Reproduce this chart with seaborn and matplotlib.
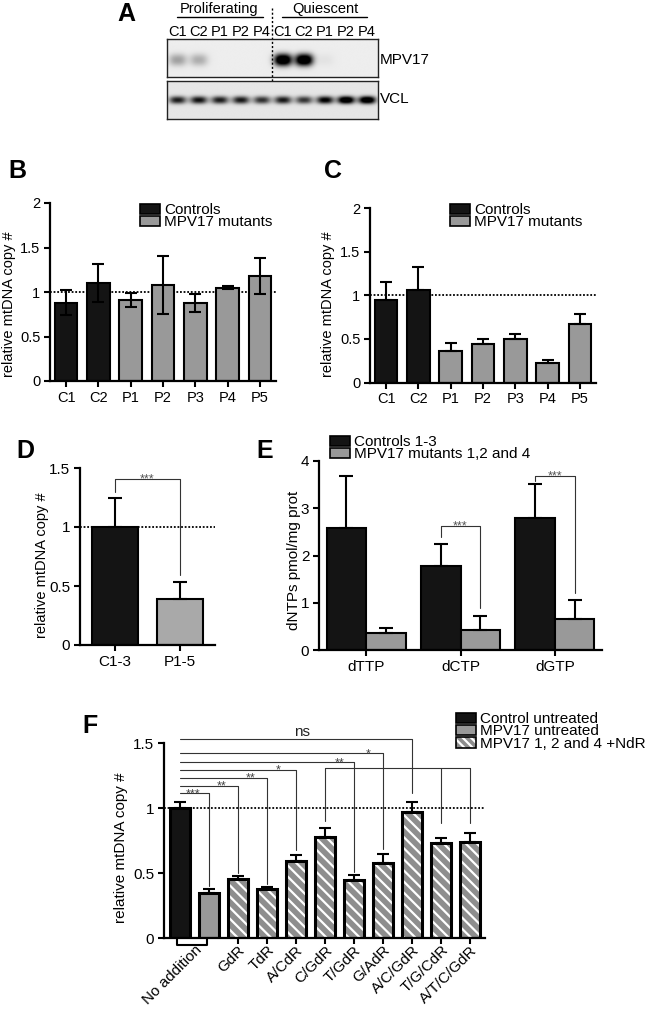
import numpy as np
import pandas as pd
import matplotlib
matplotlib.use("Agg")
import matplotlib.pyplot as plt
import seaborn as sns
from matplotlib.patches import Patch
from matplotlib.colors import to_rgb
from matplotlib.transforms import blended_transform_factory, ScaledTranslation

# ---------------- data ----------------
blot_lanes = ['C1', 'C2', 'P1', 'P2', 'P4', 'C1', 'C2', 'P1', 'P2', 'P4']
blot_mpv17 = [0.30, 0.25, 0.0, 0.0, 0.0, 1.3, 1.3, 0.04, 0.0, 0.0]
blot_vcl = [0.80, 0.85, 0.80, 0.82, 0.72, 0.82, 0.70, 0.95, 1.2, 1.2]

b_cats = ['C1', 'C2', 'P1', 'P2', 'P3', 'P4', 'P5']
b_group = ['Controls', 'Controls'] + ['MPV17 mutants'] * 5
b_vals = [0.88, 1.10, 0.91, 1.08, 0.88, 1.05, 1.18]
b_err = [0.14, 0.21, 0.08, 0.33, 0.10, 0.02, 0.20]

c_vals = [0.94, 1.06, 0.36, 0.44, 0.50, 0.22, 0.67]
c_err = [0.21, 0.26, 0.09, 0.055, 0.055, 0.035, 0.11]

d_cats = ['C1-3', 'P1-5']
d_vals = [1.00, 0.39]
d_err = [0.25, 0.14]

e_cats = ['dTTP', 'dCTP', 'dGTP']
e_groups = ['Controls 1-3', 'MPV17 mutants 1,2 and 4']
e_ctrl = [2.58, 1.77, 2.80]
e_ctrl_err = [1.10, 0.47, 0.71]
e_mut = [0.36, 0.42, 0.66]
e_mut_err = [0.11, 0.29, 0.40]
e_sig_idx = [1, 2]
e_sig_level = [2.63, 3.68]
e_sig_leg_ctrl = [2.40, 3.58]
e_sig_leg_mut = [0.88, 1.20]

f_cats = ['Control untreated', 'MPV17 untreated', 'GdR', 'TdR', 'A/CdR', 'C/GdR',
          'T/GdR', 'G/AdR', 'A/C/GdR', 'T/G/CdR', 'A/T/C/GdR']
f_groups = ['Control untreated', 'MPV17 untreated', 'MPV17 1, 2 and 4 +NdR']
f_group = [f_groups[0], f_groups[1]] + [f_groups[2]] * 9
f_vals = [1.00, 0.35, 0.455, 0.382, 0.597, 0.777, 0.449, 0.582, 0.974, 0.736, 0.738]
f_err = [0.05, 0.028, 0.025, 0.010, 0.044, 0.069, 0.036, 0.067, 0.075, 0.033, 0.070]
f_ticklabels = ['No addition', 'GdR', 'TdR', 'A/CdR', 'C/GdR', 'T/GdR', 'G/AdR',
                'A/C/GdR', 'T/G/CdR', 'A/T/C/GdR']
f_sig_target = [1, 2, 3, 4, 6, 7, 8]
f_sig_level = [1.115, 1.172, 1.236, 1.295, 1.354, 1.423, 1.531]
f_sig_leg = [0.40, 0.50, 0.42, 0.68, 0.51, 0.69, 1.12]
f_sig_text = ['***', '**', '**', '*', '**', '*', 'ns']
f_sig_textx = [0.45, 1.45, 2.45, 3.4, 5.5, 6.5, 4.2]
f_grp_targets = [5, 9, 10]
f_grp_level = 1.308
f_grp_legs = [0.90, 0.887, 0.887]

# ---------------- style ----------------
sns.set_style('ticks')
plt.rcParams['font.family'] = ['Liberation Sans', 'DejaVu Sans']
plt.rcParams.update({
    'axes.linewidth': 1.6, 'xtick.major.width': 1.5, 'ytick.major.width': 1.5,
    'xtick.major.size': 4.5, 'ytick.major.size': 4.5, 'hatch.linewidth': 1.6,
    'xtick.color': 'black', 'ytick.color': 'black', 'axes.edgecolor': 'black',
    'text.color': 'black', 'axes.labelcolor': 'black',
})

W, H = 653, 1010
fig = plt.figure(figsize=(W / 100, H / 100), dpi=100)

BLACK = '#141414'
GRAY = '#999999'
HGRAY = '#8e8e8e'


def add_ax(x0, y0, x1, y1):
    return fig.add_axes([x0 / W, 1 - y1 / H, (x1 - x0) / W, (y1 - y0) / H])


def fpt(x, y):
    return (x / W, 1 - y / H)


def label_at(ax, text, px, py, size):
    ax.set_ylabel(text, fontsize=size)
    ax.yaxis.label.set_verticalalignment('center')
    bb = ax.get_position()
    ax.yaxis.set_label_coords((px / W - bb.x0) / bb.width, ((1 - py / H) - bb.y0) / bb.height)


def legend_at(ax, handles, labels, px, py, size=11):
    ax.legend(handles, labels, loc='upper left', bbox_to_anchor=fpt(px, py),
              bbox_transform=fig.transFigure, frameon=False, fontsize=size,
              handlelength=1.3, handleheight=0.65, handletextpad=0.3,
              labelspacing=-0.1, borderpad=0, borderaxespad=0)


def style(ax, fs):
    sns.despine(ax=ax)
    ax.set_xlabel('')
    ax.tick_params(axis='both', labelsize=fs, direction='out', pad=2.5)


def dotted(ax):
    ax.axhline(1, color='black', lw=1.3, ls=(0, (1, 1)), zorder=0.5)


def sig(ax, text, x, y, fs=9, color='#555555'):
    ax.annotate(text, (x, y), xytext=(0, -2.7), textcoords='offset points',
                ha='center', va='baseline', fontsize=fs, color=color, annotation_clip=False)


# ---------------- Panel A ----------------
xs = np.linspace(-0.5, 9.5, 420)
ys = np.linspace(0, 1, 80)
X, Y = np.meshgrid(xs, ys)


def blot(intens, yc, sx, sy, bg):
    img = np.full(X.shape, bg)
    for i, a in enumerate(intens):
        img += a * np.exp(-np.abs((X - i) / sx) ** 2.6 - np.abs((Y - yc) / sy) ** 2.2)
    return np.clip(img, 0, 1)


axA1 = add_ax(166.7, 39.3, 377.7, 77.3)
axA2 = add_ax(166.7, 81, 377.7, 119)
axA1.imshow(blot(blot_mpv17, 0.45, 0.42, 0.16, 0.07), cmap='gray_r', vmin=0, vmax=1,
            extent=(-0.5, 9.5, 0, 1), aspect='auto', origin='lower', interpolation='bilinear')
axA2.imshow(blot(blot_vcl, 0.5, 0.40, 0.10, 0.10), cmap='gray_r', vmin=0, vmax=1,
            extent=(-0.5, 9.5, 0, 1), aspect='auto', origin='lower', interpolation='bilinear')
for a in (axA1, axA2):
    a.set_xticks([])
    a.set_yticks([])
    for s in a.spines.values():
        s.set_linewidth(1.0)
        s.set_color('#222222')
    a.set_xlim(-0.5, 9.5)
    a.set_ylim(0, 1)
trA = blended_transform_factory(axA1.transData, axA1.transAxes)
for i, lane in enumerate(blot_lanes):
    axA1.text(i, 1.19, lane, transform=trA, ha='center', va='center', fontsize=10.5)
axA1.text(2, 1.79, 'Proliferating', transform=trA, ha='center', va='center', fontsize=10.5)
axA1.text(7, 1.79, 'Quiescent', transform=trA, ha='center', va='center', fontsize=10.5)
axA1.plot([0.0, 4.05], [1.58, 1.58], transform=trA, color='black', lw=1.0, clip_on=False)
axA1.plot([4.95, 9.0], [1.58, 1.58], transform=trA, color='black', lw=1.0, clip_on=False)
axA1.plot([4.5, 4.5], [1.82, -1.097], transform=trA, color='black', lw=1.0,
          ls=(0, (1.5, 1.5)), clip_on=False)
axA1.text(1.011, 0.455, 'MPV17', transform=axA1.transAxes, ha='left', va='center', fontsize=11)
axA2.text(1.011, 0.526, 'VCL', transform=axA2.transAxes, ha='left', va='center', fontsize=11)

# ---------------- Panels B & C ----------------
for vals, errs, box, leg_x, both in [(b_vals, b_err, (50, 203, 276, 381), 140, True),
                                      (c_vals, c_err, (370, 208, 596, 382.5), 450, False)]:
    ax = add_ax(*box)
    sns.barplot(x=b_cats, y=vals, hue=b_group, palette=[BLACK, GRAY], dodge=False,
                width=0.7, edgecolor='black', linewidth=1.5, errorbar=None, legend=False, ax=ax)
    n = len(vals)
    lower = errs if both else np.zeros(n)
    ax.errorbar(np.arange(n), vals, yerr=[lower, errs], fmt='none', ecolor='black',
                elinewidth=1.5, capsize=4, capthick=1.5, zorder=3)
    dotted(ax)
    ax.set_ylim(0, 2)
    ax.set_xlim(-0.5, 6.5)
    ax.set_yticks([0, 0.5, 1, 1.5, 2])
    ax.set_yticklabels(['0', '0.5', '1', '1.5', '2'])
    style(ax, 10.5)
    legend_at(ax, [Patch(fc=BLACK, ec='black', lw=1.2), Patch(fc=GRAY, ec='black', lw=1.2)],
              ['Controls', 'MPV17 mutants'], leg_x, 203)
    label_at(ax, 'relative mtDNA copy #', 9 if both else 328, 304, 10.5)

# ---------------- Panel D ----------------
axD = add_ax(80, 468, 215, 645)
sns.barplot(x=d_cats, y=d_vals, hue=d_cats, palette=[BLACK, '#a9a9a9'], width=0.7,
            edgecolor='black', linewidth=1.5, errorbar=None, legend=False, ax=axD)
axD.errorbar(np.arange(2), d_vals, yerr=[np.zeros(2), d_err], fmt='none', ecolor='black',
             elinewidth=1.5, capsize=5, capthick=1.5, zorder=3)
dotted(axD)
axD.plot([0, 0, 1, 1], [1.297, 1.407, 1.407, 0.593], color='#333333', lw=0.8)
sig(axD, '***', 0.5, 1.407)
axD.set_ylim(0, 1.5)
axD.set_xlim(-0.53, 1.53)
axD.set_yticks([0, 0.5, 1, 1.5])
axD.set_yticklabels(['0', '0.5', '1', '1.5'])
style(axD, 11)
label_at(axD, 'relative mtDNA copy #', 42, 565, 10.5)

# ---------------- Panel E ----------------
axE = add_ax(319, 461, 602, 650)
dfE = pd.DataFrame({'nt': e_cats * 2,
                    'grp': [e_groups[0]] * 3 + [e_groups[1]] * 3,
                    'val': e_ctrl + e_mut})
sns.barplot(data=dfE, x='nt', y='val', hue='grp', palette=[BLACK, GRAY], width=0.84,
            edgecolor='black', linewidth=1.5, errorbar=None, legend=False, ax=axE)
centers = sorted(p.get_x() + p.get_width() / 2 for p in axE.patches)
ctrl_x = centers[0::2]
mut_x = centers[1::2]
axE.errorbar(ctrl_x, e_ctrl, yerr=[np.zeros(3), e_ctrl_err], fmt='none', ecolor='black',
             elinewidth=1.5, capsize=5, capthick=1.5, zorder=3)
axE.errorbar(mut_x, e_mut, yerr=[np.zeros(3), e_mut_err], fmt='none', ecolor='black',
             elinewidth=1.5, capsize=5, capthick=1.5, zorder=3)
for k, idx in enumerate(e_sig_idx):
    x1, x2 = ctrl_x[idx], mut_x[idx]
    axE.plot([x1, x1, x2, x2], [e_sig_leg_ctrl[k], e_sig_level[k], e_sig_level[k], e_sig_leg_mut[k]],
             color='#333333', lw=0.8)
    sig(axE, '***', (x1 + x2) / 2, e_sig_level[k])
axE.set_ylim(0, 4)
axE.set_xlim(-0.5, 2.5)
axE.set_yticks([0, 1, 2, 3, 4])
style(axE, 11)
legend_at(axE, [Patch(fc=BLACK, ec='black', lw=1.2), Patch(fc=GRAY, ec='black', lw=1.2)],
          e_groups, 330, 435)
label_at(axE, 'dNTPs pmol/mg prot', 294, 560, 11)

# ---------------- Panel F ----------------
axF = add_ax(164, 743.3, 485, 938.3)
sns.barplot(x=f_cats, y=f_vals, hue=f_group, hue_order=f_groups, palette=[BLACK, GRAY, HGRAY],
            dodge=False, width=0.7, edgecolor='black', linewidth=2, errorbar=None,
            legend=False, ax=axF)
for p in axF.patches:
    if np.allclose(p.get_facecolor()[:3], to_rgb(HGRAY), atol=0.01):
        p.set_hatch('\\\\\\')
        p.set_edgecolor('white')
sns.barplot(x=f_cats, y=f_vals, fill=False, color='black', width=0.7, linewidth=2.2,
            errorbar=None, ax=axF)
nF = len(f_vals)
axF.errorbar(np.arange(nF), f_vals, yerr=[np.zeros(nF), f_err], fmt='none', ecolor='black',
             elinewidth=1.5, capsize=4, capthick=1.5, zorder=3)
dotted(axF)
for t, lv, lg, tx, xx in zip(f_sig_target, f_sig_level, f_sig_leg, f_sig_text, f_sig_textx):
    axF.plot([0, t, t], [lv, lv, lg], color='#333333', lw=0.8, clip_on=False)
    if tx == 'ns':
        axF.annotate(tx, (xx, lv), xytext=(0, 2.2), textcoords='offset points',
                     ha='center', va='baseline', fontsize=11, color='#222222',
                     annotation_clip=False)
    else:
        sig(axF, tx, xx, lv, fs=9, color='#444444')
axF.plot([f_grp_targets[0], f_grp_targets[-1]], [f_grp_level, f_grp_level], color='#333333', lw=0.8)
for t, lg in zip(f_grp_targets, f_grp_legs):
    axF.plot([t, t], [f_grp_level, lg], color='#333333', lw=0.8)
trF = blended_transform_factory(axF.transData, axF.transAxes)
axF.plot([-0.1, -0.1, 0.93, 0.93], [0, -0.036, -0.036, 0], transform=trF, color='black',
         lw=1.5, clip_on=False)
axF.set_ylim(0, 1.5)
axF.set_xlim(-0.55, 10.52)
axF.set_yticks([0, 0.5, 1, 1.5])
axF.set_yticklabels(['0', '0.5', '1', '1.5'])
style(axF, 11)
axF.set_xticks([0.5] + list(range(2, nF)))
axF.set_xticklabels(f_ticklabels, rotation=45, ha='right', va='center', rotation_mode='anchor')
axF.xaxis.get_major_ticks()[0].tick1line.set_visible(False)
off = ScaledTranslation(5 / 100, 0, fig.dpi_scale_trans)
for lbl in axF.get_xticklabels():
    lbl.set_transform(lbl.get_transform() + off)
legend_at(axF, [Patch(fc=BLACK, ec='black', lw=1.2), Patch(fc=GRAY, ec='black', lw=1.2),
                (Patch(fc=HGRAY, ec='white', hatch='\\\\\\\\', lw=0),
                 Patch(fc='none', ec='black', lw=1.2))],
          f_groups, 456, 712)
label_at(axF, 'relative mtDNA copy #', 121, 848, 11)

# ---------------- panel letters ----------------
for letter, px, py in [('A', 126, 14), ('B', 17, 171), ('C', 333, 171),
                       ('D', 25, 451), ('E', 265, 451), ('F', 90, 726)]:
    fig.text(*fpt(px, py), letter, fontsize=18, fontweight='bold', ha='center', va='center')

fig.savefig('out.png', dpi=100)
